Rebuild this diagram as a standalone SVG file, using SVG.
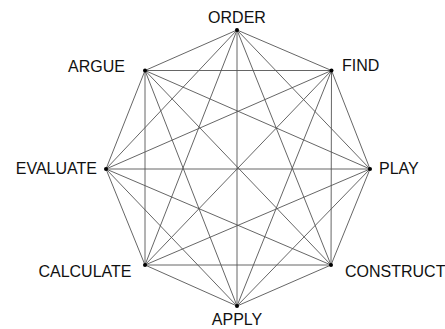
<svg xmlns="http://www.w3.org/2000/svg" width="445" height="329" viewBox="0 0 445 329">
<style>
.e{stroke:#555;stroke-width:0.9;fill:none}
.d{fill:#000}
.t{font-family:"Liberation Sans",Arial,sans-serif;font-size:16px;fill:#111}
</style>
<rect width="445" height="329" fill="#fff"/>
<g id="connectors">
<path class="e" d="M237,30L331.5,70.5M237,30L370,169M237,30L331,265M237,30L237,306M237,30L145,265M237,30L106,169M237,30L145,70.5
M331.5,70.5L370,169M331.5,70.5L331,265M331.5,70.5L237,306M331.5,70.5L145,265M331.5,70.5L106,169M331.5,70.5L145,70.5
M370,169L331,265M370,169L237,306M370,169L145,265M370,169L106,169M370,169L145,70.5
M331,265L237,306M331,265L145,265M331,265L106,169M331,265L145,70.5
M237,306L145,265M237,306L106,169M237,306L145,70.5
M145,265L106,169M145,265L145,70.5
M106,169L145,70.5"/>
</g>
<g id="order"><circle class="d" cx="237" cy="30" r="2"/><text class="t" x="237" y="23" text-anchor="middle">ORDER</text></g>
<g id="find"><circle class="d" cx="331.5" cy="70.5" r="2"/><text class="t" x="342" y="71">FIND</text></g>
<g id="play"><circle class="d" cx="370" cy="169" r="2"/><text class="t" x="379" y="173.5">PLAY</text></g>
<g id="construct"><circle class="d" cx="331" cy="265" r="2"/><text class="t" x="345" y="277">CONSTRUCT</text></g>
<g id="apply"><circle class="d" cx="237" cy="306" r="2"/><text class="t" x="237" y="325" text-anchor="middle">APPLY</text></g>
<g id="calculate"><circle class="d" cx="145" cy="265" r="2"/><text class="t" x="131.5" y="277" text-anchor="end">CALCULATE</text></g>
<g id="evaluate"><circle class="d" cx="106" cy="169" r="2"/><text class="t" x="97" y="173.5" text-anchor="end">EVALUATE</text></g>
<g id="argue"><circle class="d" cx="145" cy="70.5" r="2"/><text class="t" x="125" y="72" text-anchor="end">ARGUE</text></g>
</svg>
